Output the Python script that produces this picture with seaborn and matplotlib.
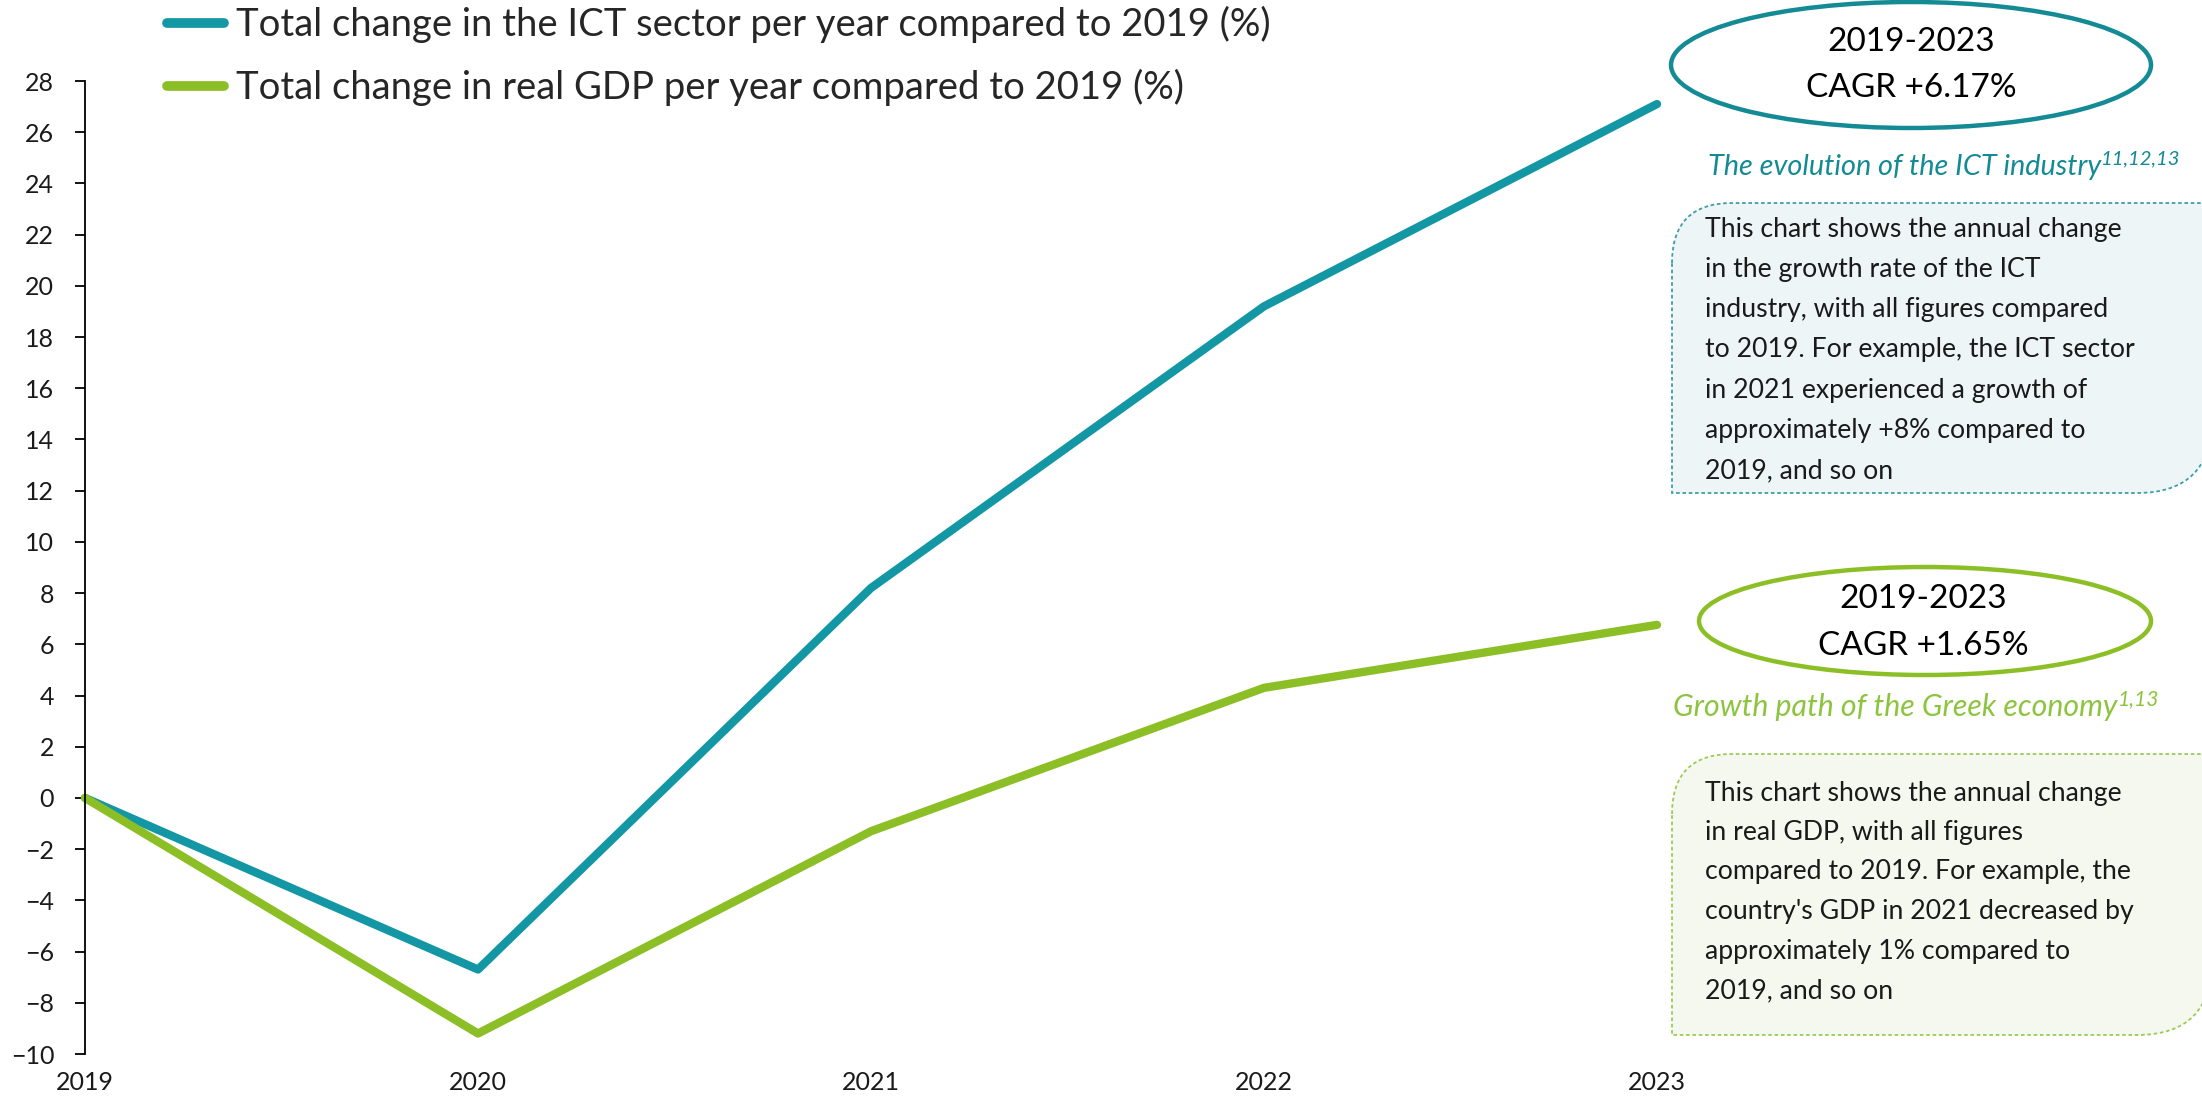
import matplotlib
matplotlib.use("Agg")
import matplotlib.pyplot as plt
import seaborn as sns
import pandas as pd
from matplotlib.lines import Line2D
from matplotlib.patches import Ellipse, PathPatch
from matplotlib.path import Path

# data
years = [2019, 2020, 2021, 2022, 2023]
ict_change = [0, -6.7, 8.2, 19.2, 27.1]
gdp_change = [0, -9.2, -1.3, 4.3, 6.76]
series_names = ["Total change in the ICT sector per year compared to 2019 (%)",
                "Total change in real GDP per year compared to 2019 (%)"]
y_ticks = list(range(-10, 29, 2))

ict_period = "2019-2023"
ict_cagr = "CAGR +6.17%"
ict_title = "The evolution of the ICT industry"
ict_sup = "11,12,13"
ict_text = ["This chart shows the annual change",
            "in the growth rate of the ICT",
            "industry, with all figures compared",
            "to 2019. For example, the ICT sector",
            "in 2021 experienced a growth of",
            "approximately +8% compared to",
            "2019, and so on"]

gdp_period = "2019-2023"
gdp_cagr = "CAGR +1.65%"
gdp_title = "Growth path of the Greek economy"
gdp_sup = "1,13"
gdp_text = ["This chart shows the annual change",
            "in real GDP, with all figures",
            "compared to 2019. For example, the",
            "country's GDP in 2021 decreased by",
            "approximately 1% compared to",
            "2019, and so on"]

teal = "#1497A4"
green = "#8CBF26"
teal_dark = "#138A94"
green_title = "#8CC43F"

df = pd.DataFrame({
    "year": years * 2,
    "value": ict_change + gdp_change,
    "series": [series_names[0]] * len(years) + [series_names[1]] * len(years),
})

sns.set_theme(style="ticks")
plt.rcParams["font.family"] = ["Lato", "DejaVu Sans"]

W, H = 2202, 1098
fig = plt.figure(figsize=(W / 100, H / 100), dpi=100)
ax = fig.add_axes([85 / W, 1 - 1054 / H, (1657 - 85) / W, (1054 - 81) / H])


def fx(x):
    return x / W


def fy(y):
    return 1 - y / H


sns.lineplot(data=df, x="year", y="value", hue="series",
             palette=[teal, green], linewidth=6, ax=ax, legend=False)
for ln in ax.lines:
    ln.set_clip_on(False)

ax.set_xlim(2019, 2023)
ax.set_ylim(-10, 28)
ax.set_yticks(y_ticks)
ax.set_xticks(years)
ax.set_xlabel("")
ax.set_ylabel("")
sns.despine(ax=ax, bottom=True)
ax.spines["left"].set_linewidth(1.3)
ax.spines["left"].set_color("black")
ax.tick_params(axis="y", length=7.2, width=1.3, pad=15, labelsize=18, colors="black", labelcolor="#1a1a1a")
ax.tick_params(axis="x", length=0, pad=12, labelsize=18, labelcolor="#1a1a1a")

handles = [Line2D([0], [0], color=teal, lw=7, solid_capstyle="round"),
           Line2D([0], [0], color=green, lw=7, solid_capstyle="round")]
fig.legend(handles, series_names, loc="upper left", bbox_to_anchor=(fx(163), fy(2)),
           frameon=False, fontsize=27.5, handlelength=1.5, handletextpad=0.3,
           labelspacing=0.68, borderpad=0.1, borderaxespad=0)

# CAGR ellipses
fig.add_artist(Ellipse((fx(1911), fy(65)), 480 / W, 126 / H, transform=fig.transFigure,
                       facecolor="white", edgecolor=teal_dark, lw=3.2))
fig.text(fx(1911), fy(42), ict_period, ha="center", va="center", fontsize=24, color="black")
fig.text(fx(1911), fy(88), ict_cagr, ha="center", va="center", fontsize=24, color="black")

fig.add_artist(Ellipse((fx(1925), fy(621)), 452 / W, 108 / H, transform=fig.transFigure,
                       facecolor="white", edgecolor=green, lw=3.2))
fig.text(fx(1923), fy(599), gdp_period, ha="center", va="center", fontsize=24, color="black")
fig.text(fx(1923), fy(646), gdp_cagr, ha="center", va="center", fontsize=24, color="black")


def note_box(x0, y0, x1, y1, r1, r2, face, edge):
    pts = [(x0, y0 + r1), (x0, y0), (x0 + r1, y0), (x1, y0), (x1, y1 - r2),
           (x1, y1), (x1 - r2, y1), (x0, y1), (x0, y0 + r1)]
    codes = [Path.MOVETO, Path.CURVE3, Path.CURVE3, Path.LINETO, Path.LINETO,
             Path.CURVE3, Path.CURVE3, Path.LINETO, Path.CLOSEPOLY]
    path = Path([(fx(x), fy(y)) for x, y in pts], codes)
    fig.add_artist(PathPatch(path, transform=fig.transFigure, facecolor=face,
                             edgecolor=edge, lw=1.3, linestyle=(0, (2, 1.5))))


note_box(1672, 203, 2212, 493, 60, 75, "#EEF5F7", "#3E9EA8")
note_box(1672, 754, 2212, 1035, 60, 75, "#F5F8EF", "#9CCB55")

for i, line in enumerate(ict_text):
    fig.text(fx(1705), fy(229 + i * 40.3), line, ha="left", va="center", fontsize=19.2, color="#1a1a1a")
for i, line in enumerate(gdp_text):
    fig.text(fx(1705), fy(793 + i * 39.5), line, ha="left", va="center", fontsize=19.2, color="#1a1a1a")

# italic section titles with superscript references
fig.canvas.draw()
renderer = fig.canvas.get_renderer()
for title, sup, color, x, y, size in [(ict_title, ict_sup, teal_dark, 1708, 167, 20.8),
                                      (gdp_title, gdp_sup, green_title, 1673, 707, 21.8)]:
    t = fig.text(fx(x), fy(y), title, ha="left", va="center", fontsize=size,
                 style="italic", color=color)
    bb = t.get_window_extent(renderer=renderer)
    fig.text(bb.x1 / W, fy(y - 8), sup, ha="left", va="center", fontsize=size * 0.7,
             style="italic", color=color)

fig.savefig("out.png", dpi=100)
